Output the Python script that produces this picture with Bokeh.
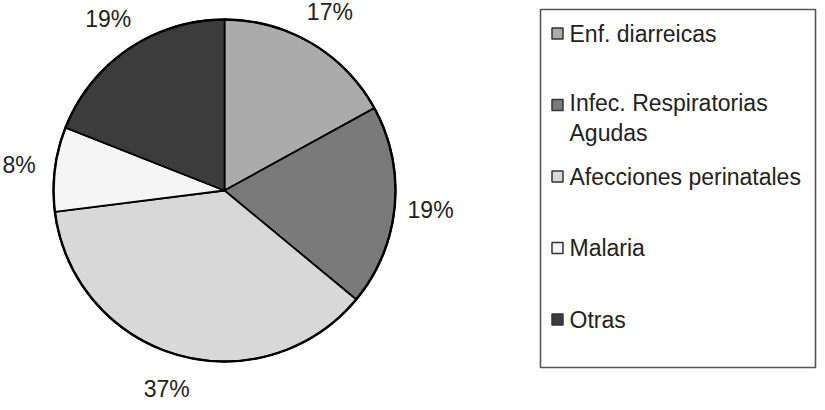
import numpy as np
from bokeh.plotting import figure
from bokeh.models import Range1d, ColumnDataSource
from bokeh.core.properties import value
from bokeh.embed import file_html
from bokeh.resources import INLINE

# ---- data ----
categories = ["Enf. diarreicas", "Infec. Respiratorias\nAgudas", "Afecciones perinatales", "Malaria", "Otras"]
percents = [17, 19, 37, 8, 19]
pct_labels = ["17%", "19%", "37%", "8%", "19%"]
colors = ["#ababab", "#7a7a7a", "#d8d8d8", "#f5f5f5", "#3c3c3c"]

W, H = 817, 402
FONT = "Liberation Sans"
FS = 23

def px(x):
    return x

def py(y):
    return H - y

p = figure(width=W, height=H, output_backend="svg", toolbar_location=None,
           x_range=Range1d(0, W), y_range=Range1d(0, H),
           x_axis_location=None, y_axis_location=None, min_border=0,
           outline_line_color=None, tools="")
p.grid.visible = False
p.background_fill_color = "white"
p.border_fill_color = "white"

# ---- pie ----
cx, cy, R = px(224), py(190), 171
vals = np.array(percents, dtype=float)
frac = vals / vals.sum()
cum = np.concatenate([[0], np.cumsum(frac)])
start = np.deg2rad(90 - cum[:-1] * 360)
end = np.deg2rad(90 - cum[1:] * 360)
mid = (start + end) / 2

src = ColumnDataSource(dict(start=start, end=end, color=colors,
                            label=pct_labels,
                            lx=cx + 207 * np.cos(mid), ly=cy + 207 * np.sin(mid)))
p.wedge(x=cx, y=cy, radius=R, start_angle="start", end_angle="end",
        direction="clock", fill_color="color", line_color="black",
        line_width=1.8, source=src)
p.circle(x=[cx], y=[cy], radius=R, fill_color=None, line_color="black",
         line_width=2.4)
p.text(x="lx", y="ly", text="label", source=src, text_align="center",
       text_baseline="middle", text_font=value(FONT), text_font_size=f"{FS}px",
       text_color="#222222")

# ---- legend ----
bx0, bx1, by0, by1 = px(540), px(815), py(9), py(367)
p.quad(left=[bx0], right=[bx1], bottom=[by1], top=[by0], fill_color=None,
       line_color="#555555", line_width=1.6)

row_top, row_step = 33, 71.5
line_h = 26
rows_y = [py(row_top + i * row_step) for i in range(len(categories))]
nlines = [c.count("\n") + 1 for c in categories]
text_y = [y - (n - 1) * line_h / 2 for y, n in zip(rows_y, nlines)]
leg = ColumnDataSource(dict(y=rows_y, ty=text_y, color=colors, label=categories))
p.rect(x=px(557), y="y", width=11, height=11, fill_color="color",
       line_color="#333333", line_width=1.5, source=leg)
p.text(x=px(569), y="ty", text="label", source=leg, text_align="left",
       text_baseline="middle", text_font=value(FONT), text_font_size=f"{FS}px",
       text_color="#222222", text_line_height=line_h / FS)

open("out.html", "w").write(file_html(p, INLINE))
